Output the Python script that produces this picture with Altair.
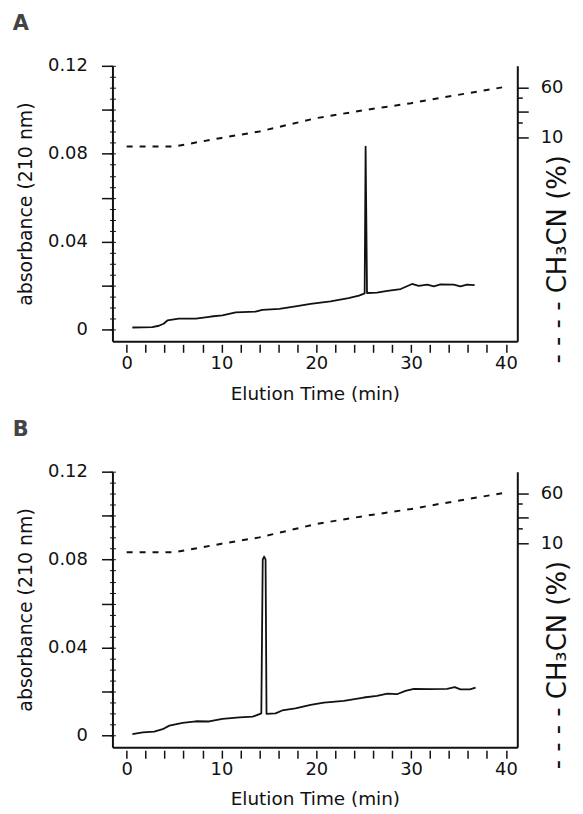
import altair as alt
import pandas as pd

# ---- data ----
# Panel A chromatogram (min, absorbance at 210 nm)
time_a = [0.6, 2.7, 3.4, 3.9, 4.3, 5.5, 7.3, 8.9, 10.1, 11.5, 13.6, 14.3, 16.1, 17.8,
          19.4, 21.5, 23.4, 24.5, 24.9, 25.1, 25.2, 25.35, 26.4, 27.5, 28.9, 30.1,
          30.8, 31.7, 32.4, 33.1, 34.5, 35.2, 35.9, 36.7]
abs_a = [0.0010, 0.0012, 0.0018, 0.0027, 0.0042, 0.0050, 0.0050, 0.0060, 0.0065, 0.0079,
         0.0082, 0.0090, 0.0095, 0.0106, 0.0117, 0.0129, 0.0144, 0.0155, 0.0162, 0.0165,
         0.0833, 0.0167, 0.0169, 0.0177, 0.0185, 0.0208, 0.0199, 0.0205, 0.0197, 0.0206,
         0.0205, 0.0197, 0.0205, 0.0203]

# Panel B chromatogram
time_b = [0.6, 1.7, 2.9, 3.8, 4.5, 5.9, 7.3, 8.7, 10.1, 11.9, 13.3, 14.2, 14.35, 14.5,
          14.65, 14.75, 15.7, 16.4, 17.8, 19.4, 20.8, 22.9, 25.0, 26.4, 27.5, 28.5, 29.4,
          30.3, 32.0, 33.8, 34.6, 35.2, 36.2, 36.8]
abs_b = [0.0006, 0.0014, 0.0018, 0.0029, 0.0045, 0.0058, 0.0065, 0.0064, 0.0076, 0.0083,
         0.0086, 0.0101, 0.0800, 0.0814, 0.0800, 0.0099, 0.0101, 0.0114, 0.0124, 0.0139,
         0.0150, 0.0158, 0.0173, 0.0180, 0.0191, 0.0188, 0.0203, 0.0212, 0.0211, 0.0212,
         0.0220, 0.0210, 0.0210, 0.0218]

# CH3CN gradient (min, %), right axis
grad_time = [0, 5, 10, 14, 20, 25, 30, 33, 39.6]
grad_pct = [1.2, 1.2, 9.8, 16.2, 29.6, 37.5, 44.6, 49.7, 60.4]

# axis settings
x_domain = [-1.5, 41.2]
abs_domain = [-0.0053, 0.12]
pct_domain = [-194, 82]
x_tick_values = list(range(0, 41, 2))
y_major_values = [0, 0.02, 0.04, 0.06, 0.08, 0.10, 0.12]
y_minor_values = [round(i * 0.005, 3) for i in range(25)]
pct_tick_values = [10, 25, 36, 50, 60]

FONT = "DejaVu Sans"
INK = "#111111"
W, H = 407, 277


def panel(letter, times, absorb):
    df = pd.DataFrame({"t": times, "a": absorb})
    gdf = pd.DataFrame({"t": grad_time, "p": grad_pct})
    xs = alt.Scale(domain=x_domain, nice=False, zero=False)
    ys = alt.Scale(domain=abs_domain, nice=False, zero=False)

    solid = alt.Chart(df).mark_line(color=INK, strokeWidth=1.8, strokeJoin="round").encode(
        x=alt.X("t:Q", scale=xs, axis=alt.Axis(
            orient="bottom", domain=True, ticks=False, labels=False, grid=False,
            title=None, domainWidth=2)),
        y=alt.Y("a:Q", scale=ys, axis=alt.Axis(
            orient="left", values=y_major_values, tickSize=11, tickWidth=1.5,
            domainWidth=2, grid=False, labelPadding=14.2, labelFlush=False,
            labelOverlap=False,
            labelExpr="round(datum.value*100) % 4 == 0 ? (datum.value == 0 ? '0' : format(datum.value, '.2f')) : ''",
            title="absorbance (210 nm)", titleFontSize=19, titlePadding=12)),
    )

    minor = alt.Chart(df).mark_line(strokeOpacity=0).encode(
        x=alt.X("t:Q", scale=xs, axis=alt.Axis(
            orient="bottom", offset=3, domain=False, values=x_tick_values,
            tickSize=8, tickWidth=1.5, labelFlush=False, labelOverlap=False,
            labelPadding=2, grid=False,
            labelExpr="datum.value % 10 == 0 ? datum.label : ''",
            title="Elution Time (min)", titlePadding=12)),
        y=alt.Y("a:Q", scale=ys, axis=alt.Axis(
            orient="left", offset=-3, domain=False, values=y_minor_values,
            tickSize=6, tickWidth=1, labels=False, grid=False, title=None)),
    )

    dashed = alt.Chart(gdf).mark_line(color=INK, strokeWidth=2, strokeDash=[6, 7]).encode(
        x=alt.X("t:Q", scale=xs, axis=None),
        y=alt.Y("p:Q", scale=alt.Scale(domain=pct_domain, nice=False, zero=False),
                axis=alt.Axis(
                    orient="right", values=pct_tick_values, domainWidth=2,
                    tickWidth=1.5,
                    tickSize={"condition": {"test": "datum.value == 25 || datum.value == 50",
                                            "value": 5}, "value": 11},
                    labelPadding=12, labelFlush=False, labelOverlap=False, grid=False,
                    labelExpr="datum.value == 10 || datum.value == 60 ? datum.label : ''",
                    title="- - - - CH\u2083CN (%)", titleFontSize=26, titleAngle=270,
                    titleX=40, titleY=194, titleAlign="center", titleBaseline="middle")),
    )

    return alt.layer(solid, minor, dashed).resolve_scale(
        y="independent"
    ).resolve_axis(x="independent", y="independent").properties(
        width=W, height=H,
        title=alt.TitleParams(letter, anchor="start", fontSize=21, font=FONT,
                              fontWeight="bold", color="#444444", offset=23, dx=-4),
    )


chart = alt.vconcat(
    panel("A", time_a, abs_a),
    panel("B", time_b, abs_b),
    spacing=16,
    padding={"left": 4, "top": 3, "right": 5, "bottom": 0},
).configure_view(stroke=None).configure_axis(
    labelFont=FONT, titleFont=FONT, labelFontSize=18, titleFontSize=18.5,
    labelColor=INK, titleColor=INK, domainColor=INK, tickColor=INK,
    titleFontWeight="normal",
)

chart.save("out.html", embed_options={"renderer": "svg", "actions": False})
